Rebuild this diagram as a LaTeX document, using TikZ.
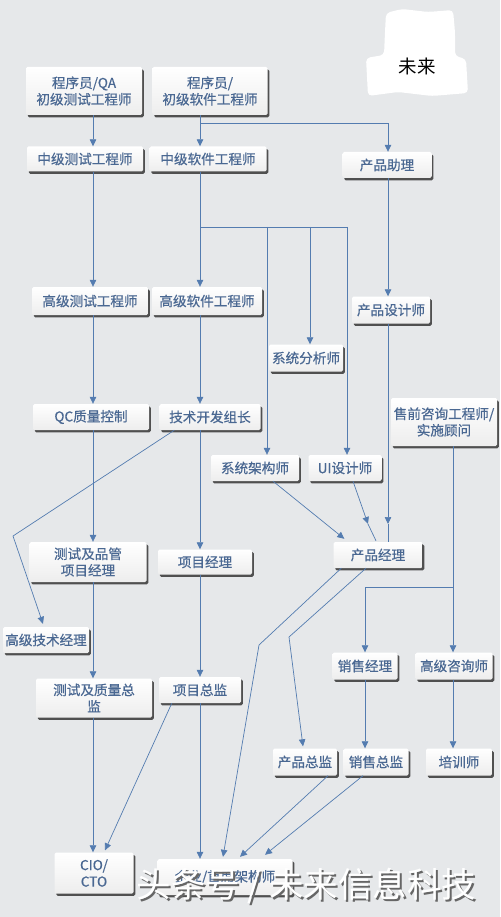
\documentclass[tikz,border=0pt]{standalone}
\usepackage{fontspec}
\setmainfont{Noto Sans CJK SC}
\newfontfamily\boxfont{Noto Sans CJK SC}[FakeBold=0.6]
\usetikzlibrary{arrows.meta,shadows,calc}
\definecolor{bgc}{RGB}{230,232,234}
\definecolor{txt}{RGB}{74,104,146}
\definecolor{lnc}{RGB}{84,124,176}
\tikzset{
  box/.style={rounded corners=1.5pt, top color=white, bottom color=black!7, text=txt, align=center,
    inner sep=0pt, font=\boxfont\fontsize{13.6}{16.5}\selectfont,
    drop shadow={shadow xshift=1.8pt, shadow yshift=-2.4pt, fill=black!75, opacity=0.9}},
  ln/.style={draw=lnc, line width=0.7pt},
  arr/.style={ln, -{Triangle[width=6.5pt,length=7pt]}},
}
\begin{document}
\begin{tikzpicture}[x=1pt,y=-1pt]
\fill[bgc] (0,0) rectangle (500,917);
\useasboundingbox (0,0) rectangle (500,917);
% blob
\fill[white, rounded corners=4pt] (386,13) -- (402,9) -- (428,12) -- (453,10) -- (455,32) -- (455,56) -- (466,59) -- (468,93) -- (432,96) -- (398,92) -- (368,96) -- (366,58) -- (384,55) -- (385,32) -- cycle;
\node (wl) at (417,66) {\fontsize{18.5}{20}\selectfont 未来};
% columns
\coordinate (c1) at (93,0);
\coordinate (c2) at (200,0);
\coordinate (c3) at (267,0);
\coordinate (c4) at (310,0);
\coordinate (c5) at (347,0);
\coordinate (c6) at (388,0);
\coordinate (c7) at (453,0);
\coordinate (c8) at (365,0);
\coordinate (b1) at (200,123);
\coordinate (b2) at (200,227);
\coordinate (b3) at (453,587);
% nodes
\node[box, minimum width=116pt, minimum height=48pt] (n1) at (84,91) {程序员/QA\\初级测试工程师};
\node[box, minimum width=115pt, minimum height=48pt] (n2) at (210,91) {程序员/\\初级软件工程师};
\node[box, minimum width=116pt, minimum height=25pt] (n3) at (85,159) {中级测试工程师};
\node[box, minimum width=117pt, minimum height=25pt] (n4) at (208,159) {中级软件工程师};
\node[box, minimum width=89pt, minimum height=26pt] (n5) at (387,165) {产品助理};
\node[box, minimum width=116pt, minimum height=28pt] (n6) at (90,301) {高级测试工程师};
\node[box, minimum width=110pt, minimum height=28pt] (n7) at (207,301) {高级软件工程师};
\node[box, minimum width=78pt, minimum height=27pt] (n8) at (391,310) {产品设计师};
\node[box, minimum width=74pt, minimum height=27pt] (n9) at (306,358) {系统分析师};
\node[box, minimum width=116pt, minimum height=26pt] (n10) at (91,417) {QC质量控制};
\node[box, minimum width=101pt, minimum height=26pt] (n11) at (210,417) {技术开发组长};
\node[box, minimum width=106pt, minimum height=48pt] (n12) at (444,422) {售前咨询工程师/\\实施顾问};
\node[box, minimum width=88pt, minimum height=26pt] (n13) at (255,468) {系统架构师};
\node[box, minimum width=73pt, minimum height=26pt] (n14) at (345,468) {UI设计师};
\node[box, minimum width=89pt, minimum height=26pt] (n15) at (378,555) {产品经理};
\node[box, minimum width=65pt, minimum height=27pt] (n16) at (365,666) {销售经理};
\node[box, minimum width=77pt, minimum height=27pt] (n17) at (454,666) {高级咨询师};
\node[box, minimum width=117pt, minimum height=40pt] (n18) at (88,562) {测试及品管\\项目经理};
\node[box, minimum width=94pt, minimum height=25pt] (n19) at (205,562) {项目经理};
\node[box, minimum width=86pt, minimum height=26pt] (n20) at (46,640) {高级技术经理};
\node[box, minimum width=116pt, minimum height=39pt] (n21) at (94,698) {测试及质量总\\监};
\node[box, minimum width=82pt, minimum height=26pt] (n22) at (200,690) {项目总监};
\node[box, minimum width=64pt, minimum height=27pt] (n23) at (305,762) {产品总监};
\node[box, minimum width=65pt, minimum height=27pt] (n24) at (376,762) {销售总监};
\node[box, minimum width=66pt, minimum height=27pt] (n25) at (459,762) {培训师};
\node[box, minimum width=79pt, minimum height=41pt] (n26) at (94,873) {CIO/\\CTO};
\node[box, minimum width=135pt, minimum height=36pt] (n27) at (225,877) {企业/首席架构师};
% connectors
\draw[arr] (n1.south -| c1) -- (n3.north -| c1);
\draw[arr] (n2.south -| c2) -- (n4.north -| c2);
\draw[arr] (b1) -| (n5.north -| c6);
\draw[arr] (n3.south -| c1) -- (n6.north -| c1);
\draw[arr] (n4.south -| c2) -- (n7.north -| c2);
\draw[ln] (b2) -- (b2 -| c5);
\draw[arr] (b2 -| c3) -- (n13.north -| c3);
\draw[arr] (b2 -| c4) -- (n9.north -| c4);
\draw[arr] (b2 -| c5) -- (n14.north -| c5);
\draw[arr] (n5.south -| c6) -- (n8.north -| c6);
\draw[arr] (n6.south -| c1) -- (n10.north -| c1);
\draw[arr] (n7.south -| c2) -- (n11.north -| c2);
\coordinate (m1) at (388,524);
\draw[arr] (n8.south -| c6) -- (m1);
\draw[ln] (m1) -- (n15.north -| c6);
\draw[arr] (n10.south -| c1) -- (n18.north -| c1);
\draw[arr] (n11.south -| c2) -- (n19.north -| c2);
\coordinate (k1) at (13,536);
\draw[arr] ($(n11.south west)+(15,0)$) -- (k1) -- ($(n20.north)+(-3,-3)$);
\draw[arr] ($(n13.south)+(18,0)$) -- ($(n15.north west)+(11,-3)$);
\coordinate (m2) at (368,524);
\draw[arr] ($(n14.south)+(8,0)$) -- (m2);
\draw[ln] (m2) -- ($(n15.north)+(-2,-1)$);
\draw[arr] (n12.south -| c7) -- (n17.north -| c7);
\draw[arr] (b3) -| (n16.north -| c8);
\coordinate (k2) at (259,645);
\draw[arr] ($(n15.south west)+(8,0)$) -- (k2) -- ($(n27.north)+(-2,-2)$);
\coordinate (k3) at (289,637);
\draw[arr] ($(n15.south)+(-12,0)$) -- (k3) -- ($(n23.north)+(-2,-2)$);
\draw[arr] (n18.south -| c1) -- (n21.north -| c1);
\draw[arr] (n19.south -| c2) -- (n22.north -| c2);
\draw[arr] (n16.south -| c8) -- (n24.north -| c8);
\draw[arr] (n17.south -| c7) -- (n25.north -| c7);
\draw[arr] (n21.south -| c1) -- (n26.north -| c1);
\draw[arr] ($(n22.south west)+(13,0)$) -- ($(n26.north)+(11,-2)$);
\draw[arr] (n22.south -| c2) -- (n27.north -| c2);
\draw[arr] ($(n23.south)+(23,0)$) -- ($(n27.north)+(15,-2)$);
\draw[arr] ($(n24.south)+(-13,0)$) -- ($(n27.north)+(40,-4)$);
% watermark
\node[text=black!60] (wms) at (308.5,888) {\fontsize{34.5}{36}\selectfont 头条号 / 未来信息科技};
\node[text=white] (wm) at (306.5,886) {\fontsize{34.5}{36}\selectfont 头条号 / 未来信息科技};
\end{tikzpicture}
\end{document}
